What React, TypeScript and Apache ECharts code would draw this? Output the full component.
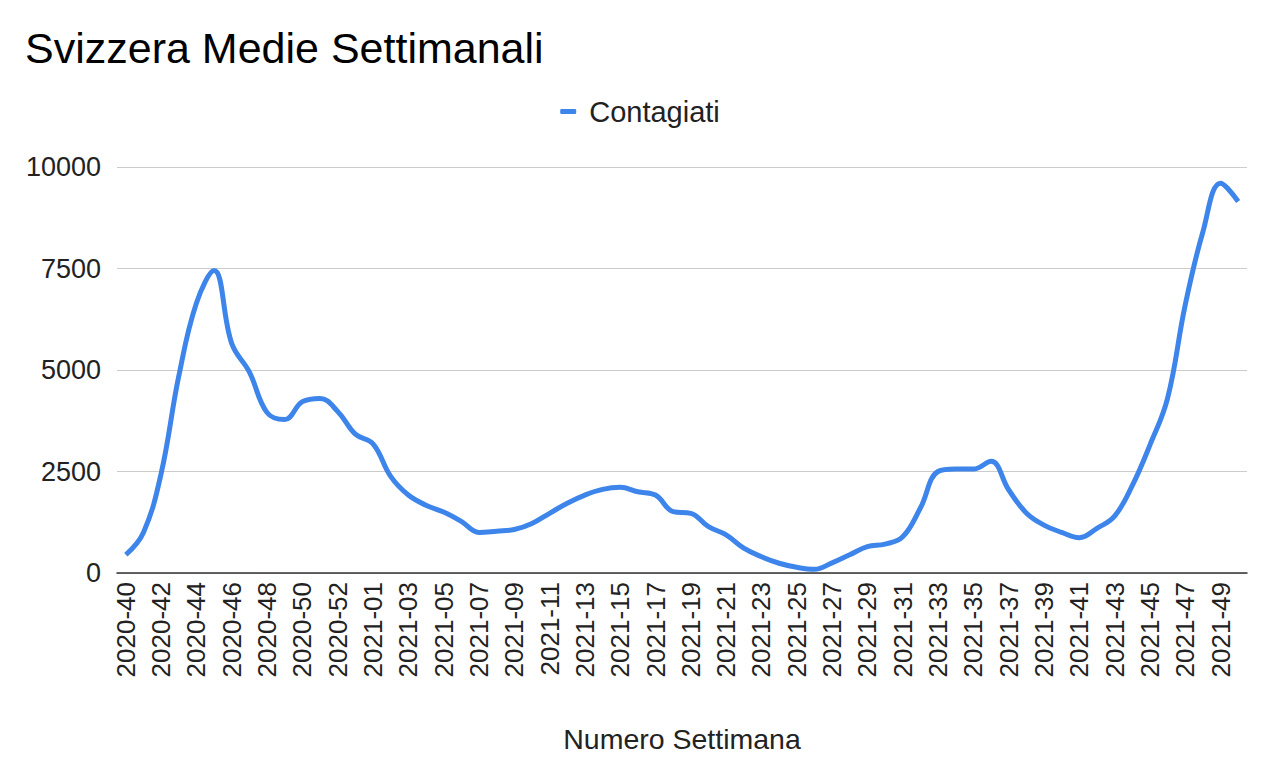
import React, { useEffect, useRef } from "react";
import * as echarts from "echarts";

const weeks: string[] = [
  "2020-40", "2020-41", "2020-42", "2020-43", "2020-44", "2020-45", "2020-46", "2020-47",
  "2020-48", "2020-49", "2020-50", "2020-51", "2020-52", "2020-53",
  "2021-01", "2021-02", "2021-03", "2021-04", "2021-05", "2021-06", "2021-07", "2021-08",
  "2021-09", "2021-10", "2021-11", "2021-12", "2021-13", "2021-14", "2021-15", "2021-16",
  "2021-17", "2021-18", "2021-19", "2021-20", "2021-21", "2021-22", "2021-23", "2021-24",
  "2021-25", "2021-26", "2021-27", "2021-28", "2021-29", "2021-30", "2021-31", "2021-32",
  "2021-33", "2021-34", "2021-35", "2021-36", "2021-37", "2021-38", "2021-39", "2021-40",
  "2021-41", "2021-42", "2021-43", "2021-44", "2021-45", "2021-46", "2021-47", "2021-48",
  "2021-49", "2021-50",
];

const contagiati: number[] = [
  450, 1000, 2450, 4850, 6650, 7450, 5650, 4950,
  3950, 3780, 4220, 4300, 3980, 3420,
  3180, 2380, 1920, 1670, 1500, 1270, 1000, 1030,
  1070, 1220, 1470, 1720, 1920, 2060, 2110, 2000,
  1920, 1510, 1470, 1140, 940, 610, 400, 240,
  140, 90, 250, 450, 650, 710, 890, 1600,
  2500, 2560, 2560, 2750, 2050, 1480, 1180, 1000,
  870, 1100, 1400, 2150, 3150, 4300, 6600, 8400,
  9600, 9150,
];

const yTicks = { min: 0, max: 10000, interval: 2500 };

const FONT = "'Liberation Sans', Arial, sans-serif";

export default function App() {
  const ref = useRef<HTMLDivElement>(null);
  useEffect(() => {
    if (!ref.current) return;
    const chart = echarts.init(ref.current, null, { renderer: "svg" });
    chart.setOption({
      animation: false,
      backgroundColor: "#ffffff",
      title: {
        text: "Svizzera Medie Settimanali",
        left: 20,
        top: 21,
        textStyle: { fontFamily: FONT, fontSize: 43, fontWeight: "normal", color: "#000000" },
      },
      legend: {
        top: 92,
        left: "center",
        icon: "roundRect",
        itemWidth: 16,
        itemHeight: 5,
        data: ["Contagiati"],
        textStyle: { fontFamily: FONT, fontSize: 29, color: "#222222", padding: [0, 0, 0, 8] },
      },
      grid: { left: 117, right: 33, top: 167, bottom: 205, containLabel: false },
      xAxis: {
        type: "category",
        data: weeks,
        boundaryGap: true,
        name: "Numero Settimana",
        nameLocation: "middle",
        nameGap: 151,
        nameTextStyle: { fontFamily: FONT, fontSize: 28.5, color: "#222222" },
        axisLine: { show: true, lineStyle: { color: "#333333", width: 1.5 } },
        axisTick: { show: false },
        axisLabel: {
          interval: 1,
          rotate: 90,
          margin: 9,
          fontFamily: FONT,
          fontSize: 26,
          color: "#222222",
        },
        splitLine: { show: false },
      },
      yAxis: {
        type: "value",
        min: yTicks.min,
        max: yTicks.max,
        interval: yTicks.interval,
        axisLine: { show: false },
        axisTick: { show: false },
        axisLabel: {
          margin: 16,
          fontFamily: FONT,
          fontSize: 27,
          color: "#222222",
          formatter: (v: number) => String(v),
        },
        splitLine: { lineStyle: { color: "#cccccc", width: 1 } },
      },
      series: [
        {
          name: "Contagiati",
          type: "line",
          data: contagiati,
          smooth: 0.4,
          showSymbol: false,
          symbol: "none",
          itemStyle: { color: "#3d85ea" },
          lineStyle: { color: "#3d85ea", width: 5 },
        },
      ],
    });
    return () => chart.dispose();
  }, []);
  return (
    <div
      ref={ref}
      style={{ position: "fixed", left: 0, top: 0, width: 1280, height: 778, background: "#fff" }}
    />
  );
}
